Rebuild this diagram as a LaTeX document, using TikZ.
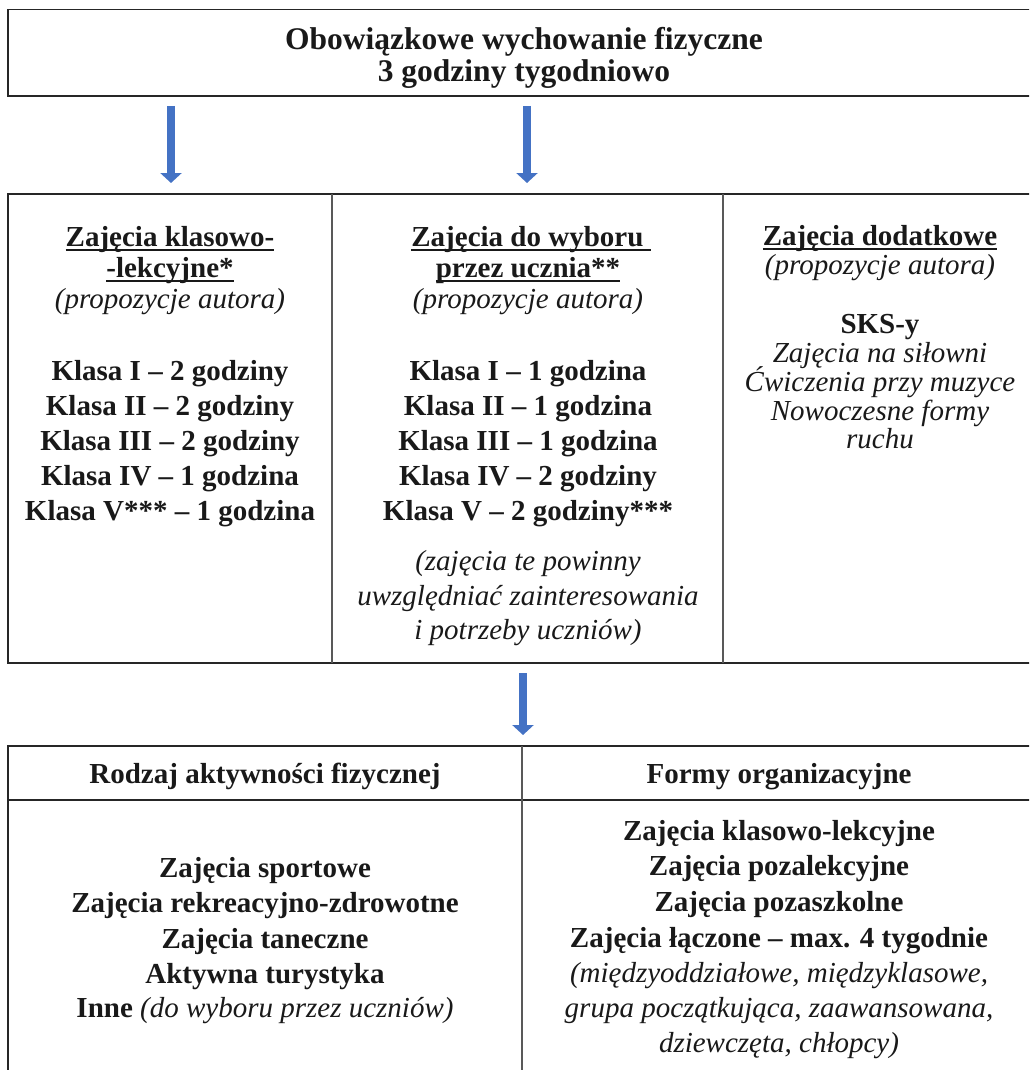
\documentclass[tikz,border=0pt]{standalone}
\usepackage{fontspec}
\setmainfont{Liberation Serif}
\usetikzlibrary{arrows.meta}
\definecolor{arrowblue}{HTML}{4472C4}
\newsavebox\ulbox
\newcommand{\ulx}[1]{\sbox\ulbox{#1}\rlap{\rule[-4.5pt]{\wd\ulbox}{1.6pt}}\usebox\ulbox}
\begin{document}
\begin{tikzpicture}[x=1pt,y=-1pt,
  txt/.style={anchor=base,inner sep=0pt,font=\fontsize{29}{35}\selectfont,text=black!90},
  ttl/.style={anchor=base,inner sep=0pt,font=\fontsize{31.5}{38}\selectfont\bfseries,text=black!90},
  border/.style={line width=1.6pt,draw=black!85},
  divider/.style={line width=1.2pt,draw=black!65},
  blockarrow/.style={line width=8pt,draw=arrowblue,-{Triangle[width=21pt,length=10pt]}}]
\useasboundingbox (0,0) rectangle (1029,1070);
\clip (0,0) rectangle (1029,1070);

% ---------- top box ----------
\draw[border] (8,9.5) rectangle (1036,96);
\node[ttl] (t1) at (524,50) {Obowiązkowe wychowanie fizyczne};
\node[ttl] (t2) at (524,81.5) {3 godziny tygodniowo};

% ---------- arrows top -> middle ----------
\coordinate (a1s) at (171,106);
\coordinate (a1e) at (171,183);
\coordinate (a2s) at (527,106);
\coordinate (a2e) at (527,183);
\draw[blockarrow] (a1s) -- (a1e);
\draw[blockarrow] (a2s) -- (a2e);

% ---------- middle table ----------
\draw[border] (8,194) rectangle (1036,663);
\draw[divider] (332,194) -- (332,663);
\draw[divider] (723,194) -- (723,663);

% column 1
\node[txt] (c1h1) at (170,246) {\bfseries\ulx{Zajęcia klasowo-}};
\node[txt] (c1h2) at (170,277) {\bfseries\ulx{-lekcyjne*}};
\node[txt] (c1p)  at (170,308) {\itshape (propozycje autora)};
\node[txt] (c1k1) at (170,380) {\bfseries Klasa I – 2 godziny};
\node[txt] (c1k2) at (170,415) {\bfseries Klasa II – 2 godziny};
\node[txt] (c1k3) at (170,450) {\bfseries Klasa III – 2 godziny};
\node[txt] (c1k4) at (170,485) {\bfseries Klasa IV – 1 godzina};
\node[txt] (c1k5) at (170,520) {\bfseries Klasa V*** – 1 godzina};

% column 2
\node[txt] (c2h1) at (531,246) {\bfseries\ulx{Zajęcia do wyboru\ }};
\node[txt] (c2h2) at (528,277) {\bfseries\ulx{przez ucznia**}};
\node[txt] (c2p)  at (528,308) {\itshape (propozycje autora)};
\node[txt] (c2k1) at (528,380) {\bfseries Klasa I – 1 godzina};
\node[txt] (c2k2) at (528,415) {\bfseries Klasa II – 1 godzina};
\node[txt] (c2k3) at (528,450) {\bfseries Klasa III – 1 godzina};
\node[txt] (c2k4) at (528,485) {\bfseries Klasa IV – 2 godziny};
\node[txt] (c2k5) at (528,520) {\bfseries Klasa V – 2 godziny***};
\node[txt] (c2n1) at (528,570) {\itshape (zajęcia te powinny};
\node[txt] (c2n2) at (528,605) {\itshape uwzględniać zainteresowania};
\node[txt] (c2n3) at (528,639) {\itshape i potrzeby uczniów)};

% column 3
\node[txt] (c3h)  at (880,245) {\bfseries\ulx{Zajęcia dodatkowe}};
\node[txt] (c3p)  at (880,274) {\itshape (propozycje autora)};
\node[txt] (c3s)  at (880,333) {\bfseries SKS-y};
\node[txt] (c3i1) at (880,362) {\itshape Zajęcia na siłowni};
\node[txt] (c3i2) at (880,391) {\itshape Ćwiczenia przy muzyce};
\node[txt] (c3i3) at (880,420) {\itshape Nowoczesne formy};
\node[txt] (c3i4) at (880,448) {\itshape ruchu};

% ---------- arrow middle -> bottom ----------
\coordinate (a3s) at (523,673);
\coordinate (a3e) at (523,735);
\draw[blockarrow] (a3s) -- (a3e);

% ---------- bottom table ----------
\draw[border] (8,1080) -- (8,746) -- (1036,746) -- (1036,1080);
\draw[border] (8,800) -- (1036,800);
\draw[divider] (522,746) -- (522,1080);

\node[txt] (bh1) at (265,783) {\bfseries Rodzaj aktywności fizycznej};
\node[txt] (bh2) at (779,783) {\bfseries Formy organizacyjne};

\node[txt] (bl1) at (265,877) {\bfseries Zajęcia sportowe};
\node[txt] (bl2) at (265,912.5) {\bfseries Zajęcia rekreacyjno-zdrowotne};
\node[txt] (bl3) at (265,948) {\bfseries Zajęcia taneczne};
\node[txt] (bl4) at (265,983) {\bfseries Aktywna turystyka};
\node[txt] (bl5) at (265,1017) {\textbf{Inne} \textit{(do wyboru przez uczniów)}};

\node[txt] (br1) at (779,840) {\bfseries Zajęcia klasowo-lekcyjne};
\node[txt] (br2) at (779,875.5) {\bfseries Zajęcia pozalekcyjne};
\node[txt] (br3) at (779,911) {\bfseries Zajęcia pozaszkolne};
\node[txt] (br4) at (779,947) {\bfseries Zajęcia łączone – max. 4 tygodnie};
\node[txt] (br5) at (779,982.5) {\itshape (międzyoddziałowe, międzyklasowe,};
\node[txt] (br6) at (779,1017) {\itshape grupa początkująca, zaawansowana,};
\node[txt] (br7) at (779,1052) {\itshape dziewczęta, chłopcy)};
\end{tikzpicture}
\end{document}
